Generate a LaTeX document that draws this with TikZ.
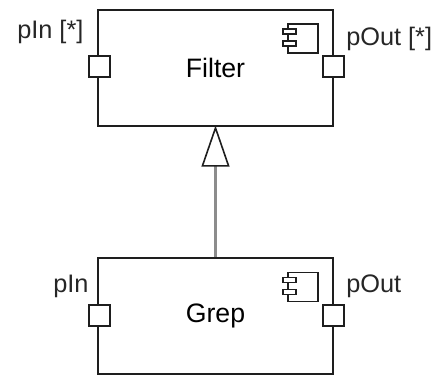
\documentclass[tikz,border=0pt]{standalone}
\usepackage{fontspec}
\setmainfont{Liberation Sans}
\usetikzlibrary{arrows.meta}
\definecolor{myline}{RGB}{30,30,30}
\definecolor{mygray}{RGB}{140,140,140}
\tikzset{
  compbox/.style={draw=myline, line width=1.6pt, fill=white, minimum width=176pt, minimum height=87.5pt, inner sep=0pt, font=\fontsize{20pt}{22pt}\selectfont},
  portbox/.style={draw=myline, line width=1.6pt, fill=white, minimum width=16pt, minimum height=16pt, inner sep=0pt},
  iconbody/.style={draw=myline, line width=1.2pt, fill=white, minimum width=22.5pt, minimum height=21.5pt, inner sep=0pt},
  icontab/.style={draw=myline, line width=1.1pt, fill=white, minimum width=9.5pt, minimum height=4pt, inner sep=0pt},
  portlabel/.style={text=black!85, inner sep=0pt, font=\fontsize{19pt}{21pt}\selectfont},
}
\begin{document}
\begin{tikzpicture}[x=0.75pt,y=-0.75pt]
  \useasboundingbox (0,0) rectangle (433,376);

  % parent
  \node[compbox] (filter) at (215.5,68) {Filter};
  \node[portbox] (filterIn) at (99.5,66.5) {};
  \node[portbox] (filterOut) at (333.5,66.5) {};
  \node[iconbody] (filterIcon) at (303,38.5) {};
  \node[icontab] (filterTabA) at (289.5,31.5) {};
  \node[icontab] (filterTabB) at (289.5,43.5) {};
  \node[portlabel, anchor=base west] (filterInText) at (17,38) {pIn [*]};
  \node[portlabel, anchor=base west] (filterOutText) at (346,45) {pOut [*]};

  % child
  \node[compbox] (grep) at (215.5,316) {Grep};
  \node[portbox] (grepIn) at (99.5,315.5) {};
  \node[portbox] (grepOut) at (333.5,315.5) {};
  \node[iconbody] (grepIcon) at (303,287) {};
  \node[icontab] (grepTabA) at (289.5,280) {};
  \node[icontab] (grepTabB) at (289.5,292) {};
  \node[portlabel, anchor=base west] (grepInText) at (53,292) {pIn};
  \node[portlabel, anchor=base west] (grepOutText) at (346,292) {pOut};

  \draw[mygray, line width=2pt, shorten >=-1.5pt, -{Triangle[open, length=31pt, width=21pt, line width=1.2pt, color=myline]}] (grep.north) -- (filter.south);
\end{tikzpicture}
\end{document}
